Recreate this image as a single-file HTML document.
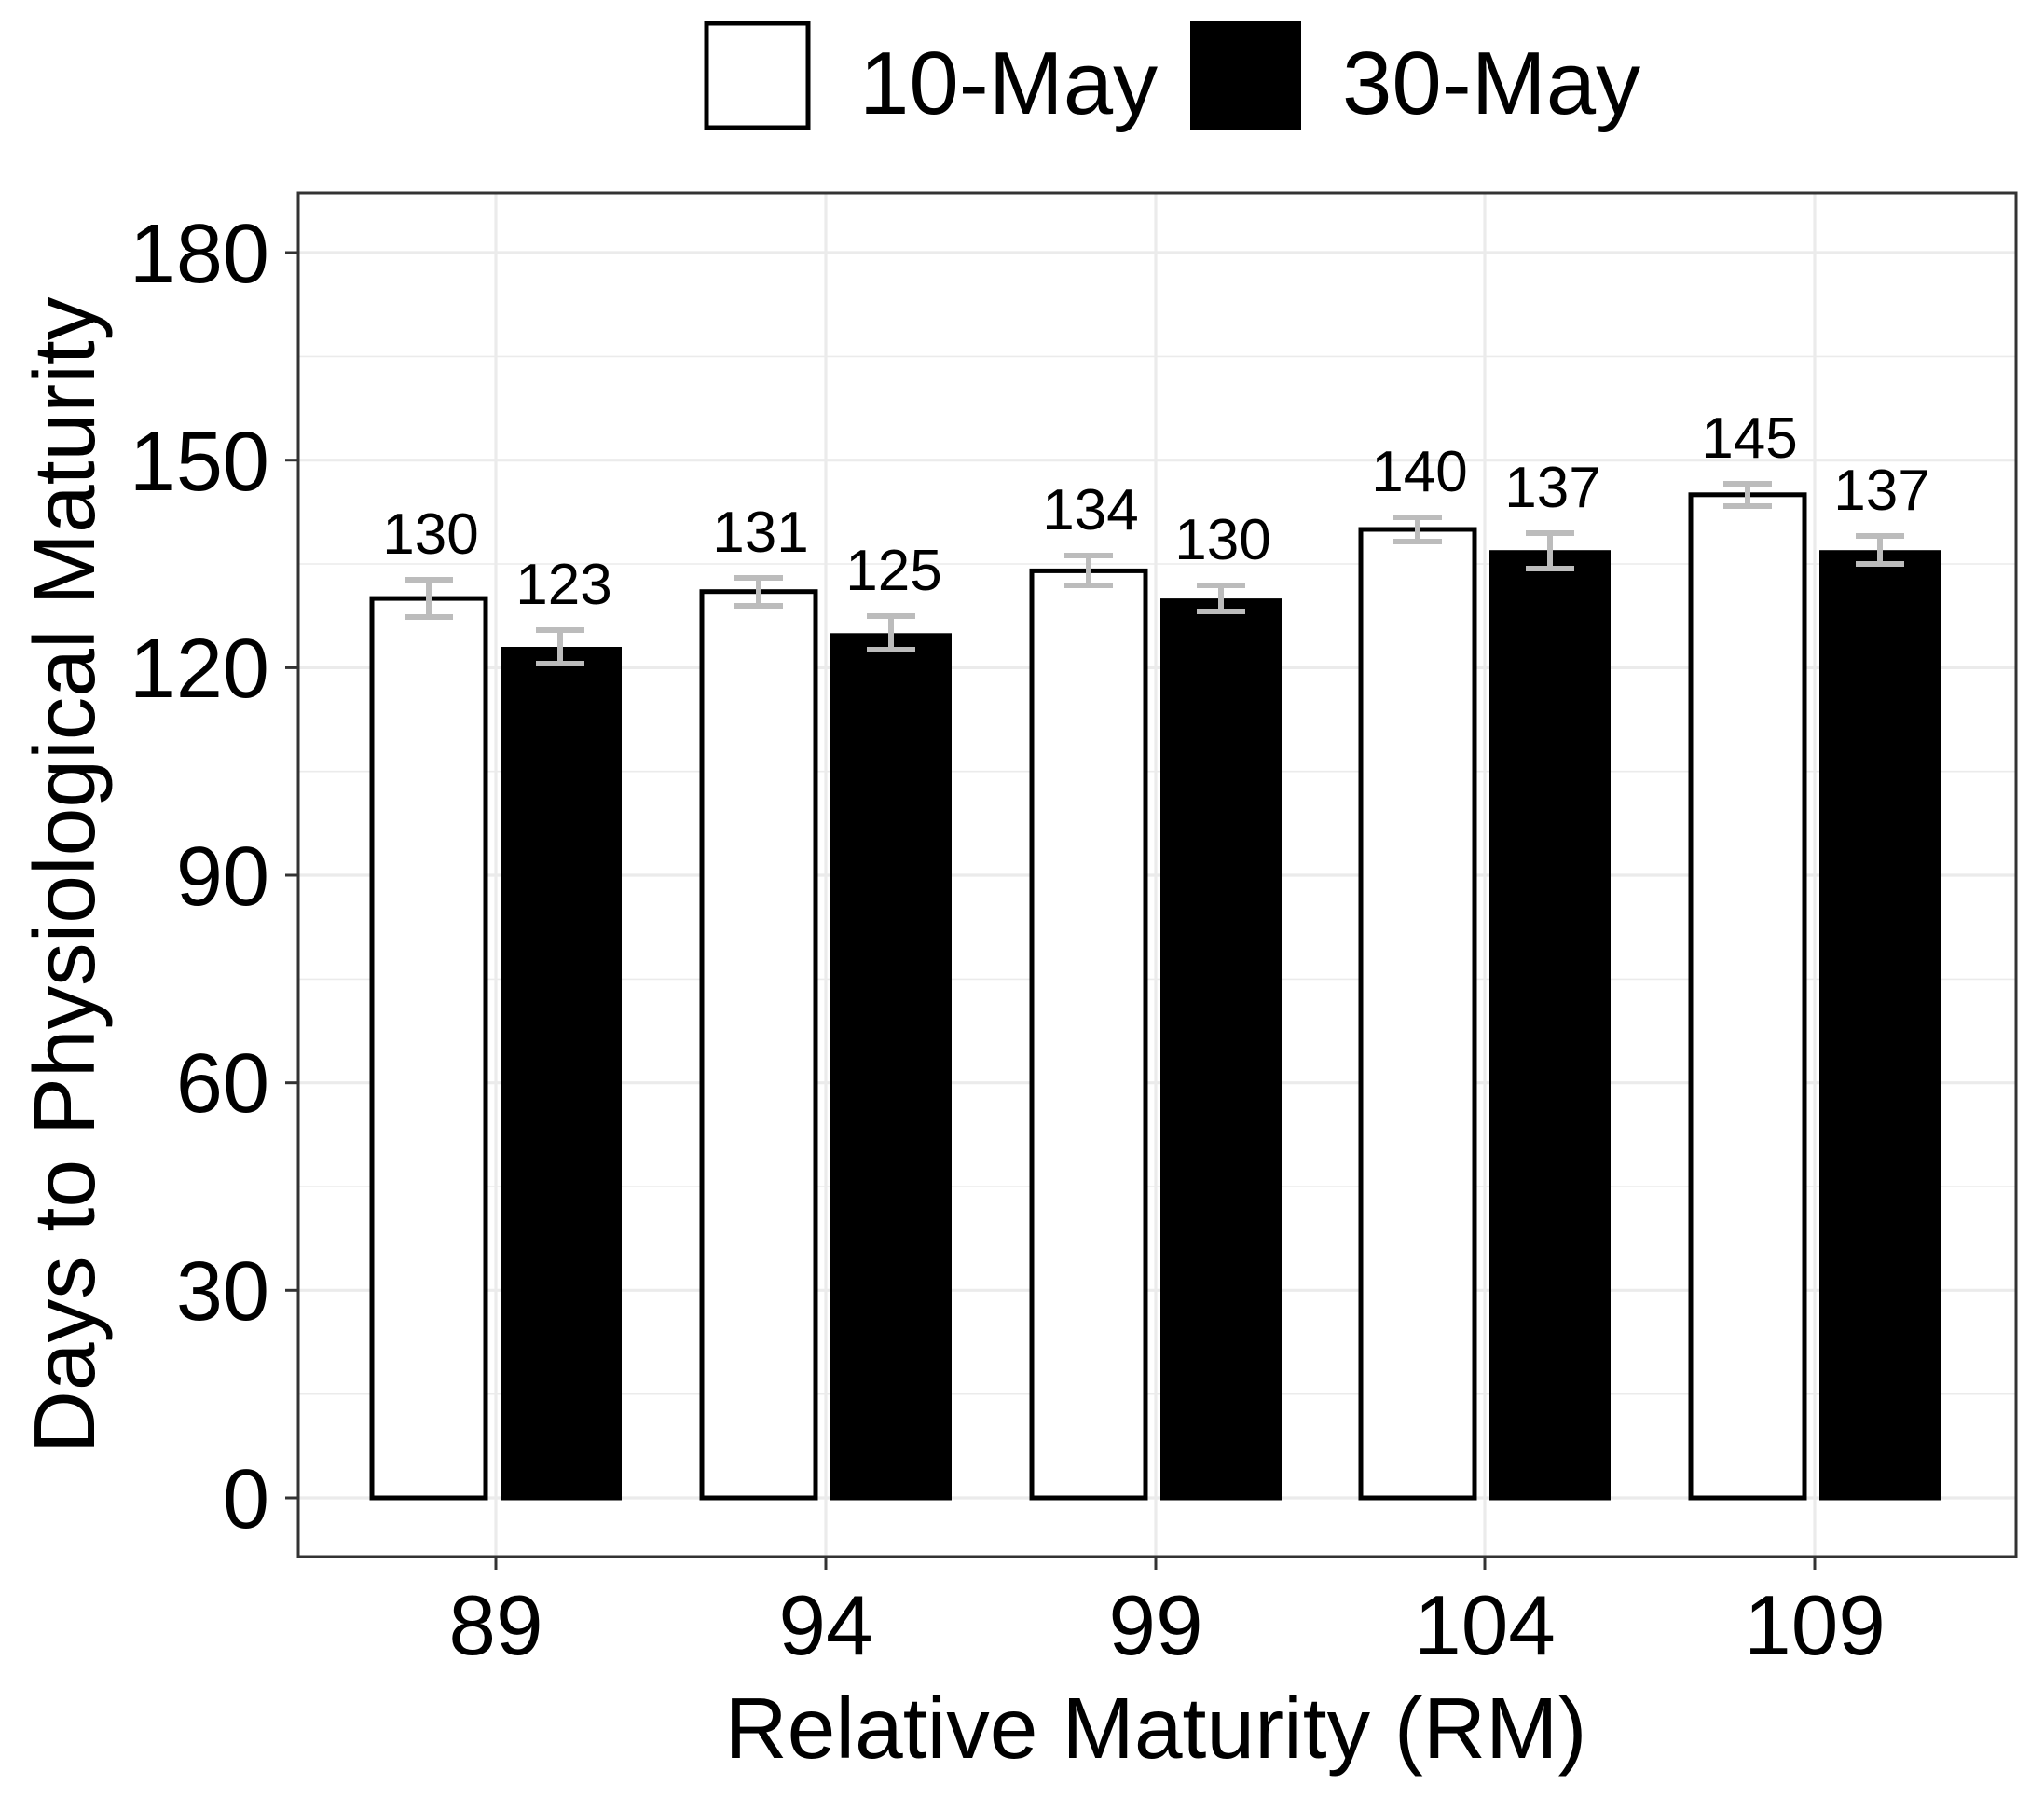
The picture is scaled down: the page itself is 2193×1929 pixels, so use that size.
<!DOCTYPE html>
<html><head><meta charset="utf-8"><style>html,body{margin:0;padding:0;background:#fff}svg{display:block}</style></head>
<body>
<svg width="2193" height="1929" viewBox="0 0 2193 1929" xmlns="http://www.w3.org/2000/svg" font-family="Liberation Sans, Arial, sans-serif">
<rect width="2193" height="1929" fill="#fff"/>
<!-- legend -->
<rect x="758" y="25" width="109" height="112" fill="#fff" stroke="#000" stroke-width="5"/>
<text x="922" y="122" font-size="96">10-May</text>
<rect x="1277" y="23" width="119" height="116" fill="#000"/>
<text x="1440" y="122" font-size="96">30-May</text>
<!-- panel grid -->
<g stroke="#ebebeb">
<g stroke-width="1.6">
<line x1="320" x2="2163" y1="1495.7" y2="1495.7"/><line x1="320" x2="2163" y1="1273" y2="1273"/><line x1="320" x2="2163" y1="1050.4" y2="1050.4"/><line x1="320" x2="2163" y1="827.7" y2="827.7"/><line x1="320" x2="2163" y1="605" y2="605"/><line x1="320" x2="2163" y1="382.4" y2="382.4"/>
</g>
<g stroke-width="3.2">
<line x1="320" x2="2163" y1="1607" y2="1607"/><line x1="320" x2="2163" y1="1384.3" y2="1384.3"/><line x1="320" x2="2163" y1="1161.7" y2="1161.7"/><line x1="320" x2="2163" y1="939" y2="939"/><line x1="320" x2="2163" y1="716.4" y2="716.4"/><line x1="320" x2="2163" y1="493.7" y2="493.7"/><line x1="320" x2="2163" y1="271" y2="271"/>
<line x1="532" x2="532" y1="207" y2="1670"/><line x1="886" x2="886" y1="207" y2="1670"/><line x1="1240" x2="1240" y1="207" y2="1670"/><line x1="1593" x2="1593" y1="207" y2="1670"/><line x1="1947" x2="1947" y1="207" y2="1670"/>
</g>
</g>
<g stroke="#000" stroke-width="5">
<rect x="399" y="642.1" width="122" height="964.9" fill="#fff"/>
<rect x="753" y="634.7" width="122" height="972.3" fill="#fff"/>
<rect x="1107" y="612.4" width="122" height="994.6" fill="#fff"/>
<rect x="1460" y="568" width="122" height="1039" fill="#fff"/>
<rect x="1814" y="530.8" width="122" height="1076.2" fill="#fff"/>
</g>
<g fill="#000">
<rect x="537" y="694" width="130" height="915.5"/>
<rect x="891" y="679.3" width="130" height="930.2"/>
<rect x="1245" y="642.1" width="130" height="967.4"/>
<rect x="1598" y="590.2" width="130" height="1019.3"/>
<rect x="1952" y="590.2" width="130" height="1019.3"/>
</g>
<g stroke="#bcbcbc" stroke-width="6" fill="none">
<path d="M460 622v40M434 622h52M434 662h52"/>
<path d="M601 676v36M575 676h52M575 712h52"/>
<path d="M814 620v30M788 620h52M788 650h52"/>
<path d="M956 661v36M930 661h52M930 697h52"/>
<path d="M1168 596v32M1142 596h52M1142 628h52"/>
<path d="M1310 628v28M1284 628h52M1284 656h52"/>
<path d="M1521 555v26M1495 555h52M1495 581h52"/>
<path d="M1663 572v38M1637 572h52M1637 610h52"/>
<path d="M1875 519v24M1849 519h52M1849 543h52"/>
<path d="M2017 575v30M1991 575h52M1991 605h52"/>
</g>
<g font-size="62" text-anchor="middle" fill="#000">
<text x="462" y="594">130</text>
<text x="605" y="648">123</text>
<text x="816" y="592">131</text>
<text x="959" y="633">125</text>
<text x="1170" y="568">134</text>
<text x="1312" y="600">130</text>
<text x="1523" y="527">140</text>
<text x="1666" y="544">137</text>
<text x="1877" y="491">145</text>
<text x="2019" y="547">137</text>
</g>
<rect x="320" y="207" width="1843" height="1463" fill="none" stroke="#333" stroke-width="3"/>
<g stroke="#333" stroke-width="3">
<line x1="306" x2="320" y1="1607" y2="1607"/><line x1="306" x2="320" y1="1384.3" y2="1384.3"/><line x1="306" x2="320" y1="1161.7" y2="1161.7"/><line x1="306" x2="320" y1="939" y2="939"/><line x1="306" x2="320" y1="716.4" y2="716.4"/><line x1="306" x2="320" y1="493.7" y2="493.7"/><line x1="306" x2="320" y1="271" y2="271"/>
<line x1="532" x2="532" y1="1670" y2="1684"/><line x1="886" x2="886" y1="1670" y2="1684"/><line x1="1240" x2="1240" y1="1670" y2="1684"/><line x1="1593" x2="1593" y1="1670" y2="1684"/><line x1="1947" x2="1947" y1="1670" y2="1684"/>
</g>
<g font-size="90" text-anchor="end" fill="#000">
<text x="289" y="1639">0</text>
<text x="289" y="1416">30</text>
<text x="289" y="1193">60</text>
<text x="289" y="971">90</text>
<text x="289" y="748">120</text>
<text x="289" y="526">150</text>
<text x="289" y="303">180</text>
</g>
<g font-size="91" text-anchor="middle" fill="#000">
<text x="532" y="1775">89</text>
<text x="886" y="1775">94</text>
<text x="1240" y="1775">99</text>
<text x="1593" y="1775">104</text>
<text x="1947" y="1775">109</text>
</g>
<text x="1240" y="1886" font-size="93" text-anchor="middle">Relative Maturity (RM)</text>
<text transform="translate(101,939) rotate(-90)" font-size="93" text-anchor="middle">Days to Physiological Maturity</text>
</svg>
</body></html>
